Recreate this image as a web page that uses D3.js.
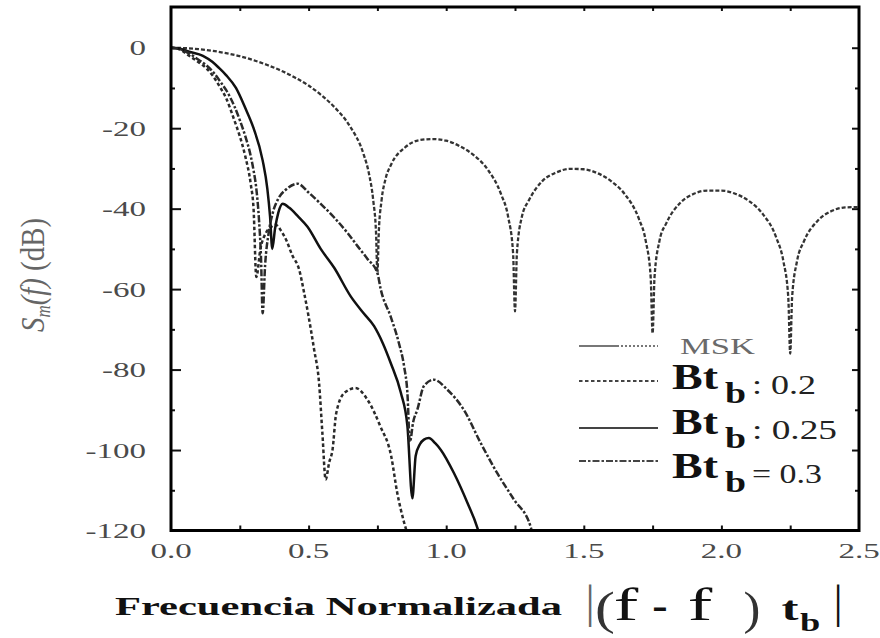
<!DOCTYPE html>
<html><head><meta charset="utf-8">
<script src="https://cdn.jsdelivr.net/npm/d3@7/dist/d3.min.js"></script>
<style>
html,body{margin:0;padding:0;background:#fff;}
svg{display:block;}
</style></head>
<body>
<svg id="chart" width="880" height="638"></svg>
<script>
// ---------- data ----------
const mskFreq = [0,0.05,0.1,0.15,0.2,0.25,0.3,0.35,0.4,0.45,0.5,0.55,0.6,0.65,0.7,0.72,0.735,0.745,0.75,0.755,0.765,0.78,0.8,0.85,0.9,0.95,1.0,1.05,1.1,1.15,1.2,1.225,1.243,1.25,1.257,1.275,1.3,1.35,1.4,1.45,1.5,1.55,1.6,1.65,1.7,1.725,1.743,1.75,1.757,1.775,1.8,1.85,1.9,1.95,2.0,2.05,2.1,2.15,2.2,2.225,2.243,2.25,2.257,2.275,2.3,2.35,2.4,2.45,2.5];
const mskDb   = [0,-0.1,-0.35,-0.75,-1.35,-2.1,-3.1,-4.3,-5.7,-7.4,-9.4,-12,-15.2,-19.5,-26.5,-31.5,-38,-46,-56,-46,-38,-32.5,-29,-24.8,-23,-22.7,-23.1,-24.5,-26.7,-30.2,-36.5,-42,-51,-65.5,-51,-42,-38,-33.1,-31,-30.1,-30.2,-31.2,-33.2,-36.5,-42.5,-48,-57,-71,-57,-48,-43.6,-38.6,-36.3,-35.5,-35.5,-36.3,-38.1,-41.3,-47.3,-53,-62,-76,-62,-53,-48.1,-43,-40.6,-39.7,-39.6];

const bt02Freq = [0,0.03,0.066,0.1,0.127,0.15,0.18,0.2,0.23,0.25,0.27,0.29,0.3,0.31,0.325,0.345,0.365,0.38,0.4,0.42,0.44,0.466,0.484,0.5,0.52,0.538,0.55,0.562,0.575,0.587,0.6,0.63,0.67,0.714,0.76,0.8,0.822,0.847,0.86];
const bt02Db   = [0,-0.4,-2,-3.6,-5,-6.8,-10,-12.5,-18,-22,-27,-34,-40,-57,-50,-46,-44.5,-44,-45.5,-48,-51.5,-55.2,-61,-66.8,-75,-83.3,-95.7,-107.3,-103,-99.9,-91,-85.8,-84.6,-87.5,-94,-101.5,-110.6,-118,-121];

const bt025Freq = [0,0.03,0.066,0.116,0.15,0.174,0.2,0.236,0.27,0.3,0.333,0.35,0.36,0.368,0.378,0.39,0.406,0.43,0.46,0.496,0.544,0.593,0.653,0.7,0.738,0.77,0.798,0.835,0.859,0.877,0.889,0.905,0.919,0.937,0.96,0.98,1.028,1.077,1.113,1.12];
const bt025Db   = [0,-0.2,-1,-2,-3.5,-5,-6.8,-10,-15,-20,-28,-35,-42,-50,-45,-41,-38.8,-39.8,-41.8,-44.5,-50,-54.7,-61.8,-66,-69.2,-73.5,-78.3,-85.7,-94,-112,-101.5,-98.5,-97.4,-97,-98.3,-99.9,-105.7,-113.1,-119.3,-121];

const bt03Freq = [0,0.03,0.066,0.1,0.127,0.15,0.18,0.2,0.23,0.25,0.27,0.29,0.3,0.31,0.32,0.327,0.333,0.342,0.355,0.37,0.39,0.417,0.46,0.5,0.544,0.593,0.641,0.68,0.714,0.75,0.762,0.798,0.828,0.847,0.859,0.868,0.88,0.895,0.919,0.955,1.004,1.064,1.125,1.185,1.246,1.306,1.315];
const bt03Db   = [0,-0.3,-1.4,-3,-4.3,-5.8,-8.5,-10.5,-14.5,-18,-22,-27,-30.5,-35,-43,-52,-66,-54,-46,-41,-37.5,-35.3,-33.8,-36,-38.8,-42.2,-46,-49.5,-52.5,-56,-60,-66.8,-73.4,-79.2,-85.8,-98,-93,-90,-84.1,-82.5,-85,-90,-98.2,-105.7,-112.3,-118.9,-121];

const xTickLabels = ["0.0","0.5","1.0","1.5","2.0","2.5"];
const xTickValues = [0,0.5,1.0,1.5,2.0,2.5];
const xMinorTicks = [0.25,0.5,0.75,1.0,1.25,1.5,1.75,2.0,2.25];
const yTickValues = [0,-20,-40,-60,-80,-100,-120];
const yTickLabels = ["0","-20","-40","-60","-80","-100","-120"];
const yMinorTicks = [-10,-30,-50,-70,-90,-110];
const legendNames = ["MSK","0.2","0.25","0.3"];

// ---------- layout ----------
const svg = d3.select("#chart");
const x = d3.scaleLinear().domain([0,2.5]).range([171,859]);
const y = d3.scaleLinear().domain([-120,10]).range([530.5,7.5]);
const PL=171, PR=859, PT=7, PB=530.5;

svg.append("defs").append("clipPath").attr("id","plotclip")
  .append("rect").attr("x",PL).attr("y",PT).attr("width",PR-PL).attr("height",PB-PT);

function axisNoLabels(g){ g.select(".domain").remove(); g.selectAll("text").remove(); g.selectAll("line").attr("stroke","#111").attr("stroke-width",2); }
svg.append("g").attr("transform",`translate(${PL},0)`)
  .call(d3.axisLeft(y).tickValues(yTickValues).tickSize(-10).tickFormat("")).call(axisNoLabels);
svg.append("g").attr("transform",`translate(${PL},0)`)
  .call(d3.axisLeft(y).tickValues(yMinorTicks).tickSize(-4).tickFormat("")).call(axisNoLabels);
svg.append("g").attr("transform",`translate(${PR},0)`)
  .call(d3.axisRight(y).tickValues(yTickValues).tickSize(-7).tickFormat("")).call(axisNoLabels);
svg.append("g").attr("transform",`translate(${PR},0)`)
  .call(d3.axisRight(y).tickValues(yMinorTicks).tickSize(-4).tickFormat("")).call(axisNoLabels);
svg.append("g").attr("transform",`translate(0,${PB})`)
  .call(d3.axisBottom(x).tickValues(xMinorTicks).tickSize(-5).tickFormat("")).call(axisNoLabels);
svg.append("g").attr("transform",`translate(0,${PT})`)
  .call(d3.axisTop(x).tickValues(xMinorTicks).tickSize(-4).tickFormat("")).call(axisNoLabels);

function stext(g, tx, ty, str, o){
  return g.append("text")
    .attr("transform",`translate(${tx},${ty}) scale(${o.sx||1},${o.sy||1})`)
    .attr("font-family", o.family || "'Liberation Serif','Times New Roman',serif")
    .attr("font-size", o.size).attr("font-weight", o.weight||"normal")
    .attr("font-style", o.style||"normal")
    .attr("text-anchor", o.anchor||"start").attr("fill", o.fill||"#111").text(str);
}
yTickValues.forEach((v,i)=> stext(svg,146,y(v)+7.5,yTickLabels[i],{size:22,sx:1.5,anchor:"end",fill:"#4a4a4a"}));
xTickValues.forEach((v,i)=> stext(svg,x(v),558,xTickLabels[i],{size:22,sx:1.5,anchor:"middle",fill:"#4a4a4a"}));

// curves
const line = d3.line().x(d=>x(d[0])).y(d=>y(d[1])).curve(d3.curveMonotoneX);
const series = [
  {name:"MSK",  f:mskFreq,   v:mskDb,   dash:"4,2",       color:"#333", w:2.3},
  {name:"0.2",  f:bt02Freq,  v:bt02Db,  dash:"3.5,2.5",   color:"#2a2a2a", w:2.5},
  {name:"0.25", f:bt025Freq, v:bt025Db, dash:null,        color:"#111", w:2.5},
  {name:"0.3",  f:bt03Freq,  v:bt03Db,  dash:"7,2,2.5,2", color:"#2a2a2a", w:2.5}
];
const cg = svg.append("g").attr("clip-path","url(#plotclip)");
series.forEach(s=>{
  cg.append("path").datum(s.f.map((f,i)=>[f,s.v[i]]))
    .attr("d",line).attr("fill","none").attr("stroke",s.color)
    .attr("stroke-width",s.w).attr("stroke-dasharray",s.dash);
});

// frame
svg.append("rect").attr("x",PL).attr("y",PT).attr("width",PR-PL).attr("height",PB-PT)
  .attr("fill","none").attr("stroke","#000").attr("stroke-width",3);

// legend
const lg = svg.append("g");
const legendRows = [
  {lineY:346, base:354},
  {lineY:381, base:389},
  {lineY:428, base:434},
  {lineY:461, base:478}
];
series.forEach((s,i)=>{
  const r = legendRows[i];
  lg.append("line").attr("x1",579).attr("x2",658).attr("y1",r.lineY).attr("y2",r.lineY)
    .attr("stroke", i===0 ? "#777" : "#444").attr("stroke-width",2.2)
    .attr("stroke-dasharray", i===0 ? "40,2,2,2,2,2,2,2,2,2,2,2,2,2,2,2,2,2,2,2,2" : s.dash);
});
lg.append("text").attr("x",680).attr("y",354).attr("font-family","'Liberation Serif',serif")
  .attr("font-size",23).attr("fill","#6a6a6a").attr("textLength",75).attr("lengthAdjust","spacingAndGlyphs").text(legendNames[0]);
const seps = [": ",": ","= "];
const valWidths = [64,85,70];
[1,2,3].forEach((k,j)=>{
  const r = legendRows[k];
  lg.append("text").attr("x",672).attr("y",r.base).attr("font-family","'Liberation Serif',serif")
    .attr("font-size",36).attr("font-weight","bold").attr("fill","#111")
    .attr("textLength",46).attr("lengthAdjust","spacingAndGlyphs").text("Bt");
  lg.append("text").attr("x",725).attr("y",r.base+14).attr("font-family","'Liberation Serif',serif")
    .attr("font-size",30).attr("font-weight","bold").attr("fill","#111")
    .attr("textLength",21).attr("lengthAdjust","spacingAndGlyphs").text("b");
  lg.append("text").attr("x",752).attr("y",r.base+5).attr("font-family","'Liberation Serif',serif")
    .attr("font-size",27).attr("fill","#222")
    .attr("textLength",valWidths[j]).attr("lengthAdjust","spacingAndGlyphs").text(seps[j]+legendNames[k]);
});

// x-axis title
svg.append("text").attr("x",115).attr("y",615).attr("font-family","'Liberation Serif',serif")
  .attr("font-size",26).attr("font-weight","bold").attr("fill","#111")
  .attr("textLength",447).attr("lengthAdjust","spacingAndGlyphs").text("Frecuencia Normalizada");
const fm = svg.append("g");
stext(fm,590,617,"|",{size:46,anchor:"middle",fill:"#666"});
stext(fm,605,624,"(",{size:46,sx:1.3,anchor:"middle",fill:"#333"});
stext(fm,626,620,"f",{size:46,sx:1.6,anchor:"middle",fill:"#111"});
stext(fm,660,620,"-",{size:46,sx:1.0,anchor:"middle",fill:"#111"});
stext(fm,700,620,"f",{size:46,sx:1.6,anchor:"middle",fill:"#111"});
stext(fm,752,624,")",{size:46,sx:1.1,anchor:"middle",fill:"#333"});
stext(fm,790,620,"t",{size:34,sx:1.5,weight:"bold",anchor:"middle",fill:"#111"});
stext(fm,810,631,"b",{size:26,sx:1.4,weight:"bold",anchor:"middle",fill:"#111"});
stext(fm,838,617,"|",{size:46,anchor:"middle",fill:"#111"});

// y-axis title (rotated)
const yt = svg.append("text")
  .attr("transform","translate(44,332) rotate(-90) scale(1,1.55)")
  .attr("font-family","'Liberation Serif',serif").attr("font-size",22).attr("fill","#666")
  .attr("textLength",114).attr("lengthAdjust","spacingAndGlyphs");
yt.append("tspan").attr("font-style","italic").text("S");
yt.append("tspan").attr("font-size",13).attr("dy",4).attr("font-style","italic").text("m");
yt.append("tspan").attr("dy",-4).attr("font-style","italic").text("(f)");
yt.append("tspan").text(" (dB)");
</script>
</body></html>
